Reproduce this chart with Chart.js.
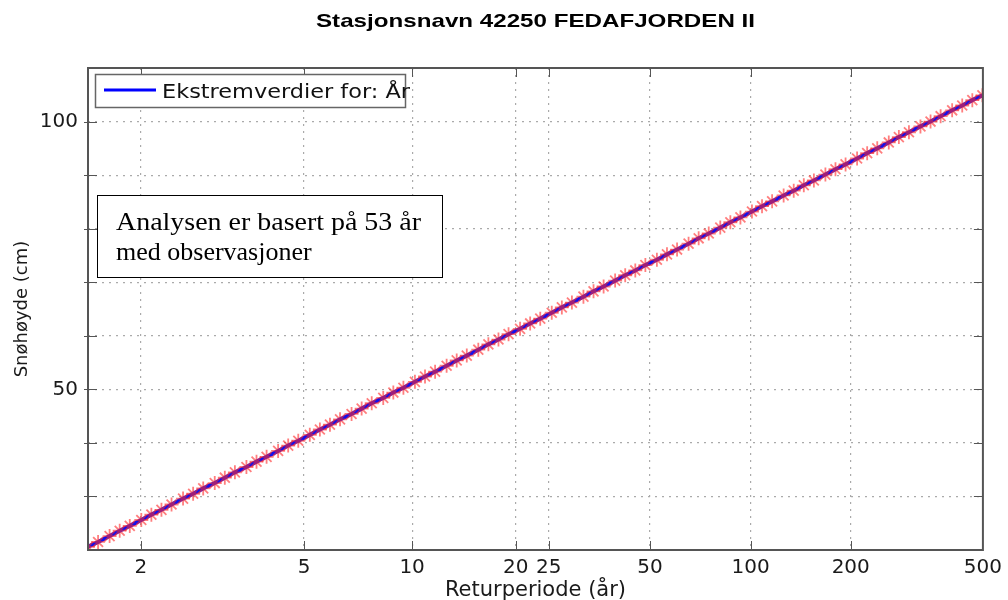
<!DOCTYPE html>
<html>
<head>
<meta charset="utf-8">
<script src="https://cdn.jsdelivr.net/npm/chart.js@4/dist/chart.umd.min.js"></script>
<style>
  html, body { margin:0; padding:0; background:#fff; }
  #wrap { width:1008px; height:600px; position:relative; }
</style>
</head>
<body>
<div id="wrap"><canvas id="c" width="1008" height="600"></canvas></div>
<script>
// Gumbel reduced variate on x, return period labels on the ticks
var returnPeriods = [2, 5, 10, 20, 25, 50, 100, 200, 500];
var tickPositions = [0.3665, 1.4999, 2.2504, 2.9702, 3.1985, 3.9019, 4.6001, 5.2958, 6.2136];
var yLabels = [50, 100];

var variate = [0.00,0.07,0.15,0.22,0.29,0.37,0.44,0.51,0.58,0.66,0.73,0.80,0.88,0.95,1.02,1.10,1.17,1.24,1.32,1.39,
  1.46,1.54,1.61,1.68,1.75,1.83,1.90,1.97,2.05,2.12,2.19,2.27,2.34,2.41,2.49,2.56,2.63,2.71,2.78,2.85,
  2.92,3.00,3.07,3.14,3.22,3.29,3.36,3.44,3.51,3.58,3.66,3.73,3.80,3.87,3.95,4.02,4.09,4.17,4.24,4.31,
  4.39,4.46,4.53,4.61,4.68,4.75,4.83,4.90,4.97,5.04,5.12,5.19,5.26,5.34,5.41,5.48,5.56,5.63,5.70,5.78,
  5.85,5.92,6.00,6.07,6.14,6.21];
var snowDepth = [20.6,21.5,22.6,23.6,24.5,25.6,26.6,27.5,28.5,29.6,30.5,31.5,32.5,33.5,34.5,35.5,36.5,37.4,38.5,39.5,
  40.4,41.5,42.5,43.4,44.4,45.4,46.4,47.4,48.4,49.4,50.3,51.4,52.4,53.3,54.4,55.4,56.3,57.4,58.4,59.3,
  60.3,61.3,62.3,63.2,64.3,65.3,66.2,67.3,68.3,69.2,70.3,71.3,72.2,73.2,74.2,75.2,76.1,77.2,78.2,79.1,
  80.2,81.2,82.1,83.2,84.2,85.1,86.2,87.1,88.1,89.0,90.1,91.1,92.0,93.1,94.1,95.0,96.1,97.1,98.0,99.1,
  100.0,101.0,102.1,103.0,104.0,104.9];

var titleText = "Stasjonsnavn 42250 FEDAFJORDEN II";
var legendText = "Ekstremverdier for: År";
var noteLines = ["Analysen er basert på 53 år", "med observasjoner"];

function pts(){ var a = []; for (var i=0;i<variate.length;i++){ a.push({x:variate[i], y:snowDepth[i]}); } return a; }

function stretchText(ctx, txt, x, y, w){
  var m = ctx.measureText(txt).width;
  ctx.save(); ctx.translate(x, y); ctx.scale(w/m, 1); ctx.fillText(txt, 0, 0); ctx.restore();
}

var decor = {
  id: "decor",
  beforeDatasetsDraw: function(chart){
    var ctx = chart.ctx, a = chart.chartArea, xs = chart.scales.x, ys = chart.scales.y;
    ctx.save();
    ctx.strokeStyle = "#555"; ctx.lineWidth = 1;
    // inward tick marks (left, right, top, bottom)
    for (var v=30; v<=100; v+=10){
      var py = Math.round(ys.getPixelForValue(v)) + 0.5;
      ctx.beginPath(); ctx.moveTo(a.left-4, py); ctx.lineTo(a.left+9, py); ctx.moveTo(a.right, py); ctx.lineTo(a.right-9, py); ctx.stroke();
    }
    for (var i=0;i<tickPositions.length-1;i++){
      var px = Math.round(xs.getPixelForValue(tickPositions[i])) + 0.5;
      ctx.beginPath(); ctx.moveTo(px, a.bottom); ctx.lineTo(px, a.bottom-9); ctx.moveTo(px, a.top); ctx.lineTo(px, a.top+9); ctx.stroke();
    }
    ctx.restore();
  },
  afterDraw: function(chart){
    var ctx = chart.ctx, a = chart.chartArea;
    ctx.save();
    // frame
    ctx.strokeStyle = "#555"; ctx.lineWidth = 2;
    ctx.strokeRect(a.left, a.top, a.right-a.left, a.bottom-a.top);
    // title
    ctx.fillStyle = "#000"; ctx.textBaseline = "alphabetic";
    ctx.font = "bold 19px 'Liberation Sans', Arial, sans-serif";
    stretchText(ctx, titleText, 316, 27, 439);
    // legend
    ctx.fillStyle = "#fff"; ctx.fillRect(95, 74, 310, 33);
    ctx.strokeStyle = "#666"; ctx.lineWidth = 1.5; ctx.strokeRect(95.5, 74.5, 310, 33);
    ctx.strokeStyle = "#0000ff"; ctx.lineWidth = 3;
    ctx.beginPath(); ctx.moveTo(104, 90); ctx.lineTo(156, 90); ctx.stroke();
    ctx.fillStyle = "#111"; ctx.font = "19px 'DejaVu Sans', sans-serif";
    stretchText(ctx, legendText, 162, 98, 248);
    // note box
    ctx.fillStyle = "#fff"; ctx.fillRect(97, 195, 345, 82);
    ctx.strokeStyle = "#000"; ctx.lineWidth = 1; ctx.strokeRect(97.5, 195.5, 345, 82);
    ctx.fillStyle = "#000"; ctx.font = "26px 'Liberation Serif', 'Times New Roman', serif";
    stretchText(ctx, noteLines[0], 116, 230, 305);
    ctx.fillText(noteLines[1], 116, 260);
    ctx.restore();
  }
};

new Chart(document.getElementById("c"), {
  type: "scatter",
  data: { datasets: [
    { label: legendText, data: pts(), showLine: true, borderColor: "#1010f0", borderWidth: 4,
      pointRadius: 0, order: 2 },
    { label: "obs", data: pts(), showLine: false, pointStyle: "star", pointRadius: 7,
      borderColor: "rgba(255,40,40,0.6)", backgroundColor: "rgba(255,40,40,0.6)", borderWidth: 1.8, order: 1 }
  ]},
  options: {
    responsive: false, animation: false,
    layout: { padding: { top: 68, right: 25, left: 0, bottom: 0 } },
    plugins: { legend: { display: false }, tooltip: { enabled: false }, title: { display: false } },
    scales: {
      x: {
        type: "linear", min: 0, max: 6.2136,
        afterBuildTicks: function(s){ s.ticks = tickPositions.map(function(v){ return { value: v }; }); },
        afterFit: function(s){ s.height = 50; },
        ticks: { autoSkip: false, maxRotation: 0, padding: 6, color: "#1a1a1a",
          font: { family: "'DejaVu Sans', sans-serif", size: 20 },
          callback: function(v){ var i = tickPositions.indexOf(v); return i >= 0 ? String(returnPeriods[i]) : ""; } },
        grid: { color: "#aaa", lineWidth: 1.2, drawTicks: false },
        border: { display: false, dash: [2, 5] },
        title: { display: true, text: "Returperiode (år)", color: "#1a1a1a", padding: { top: 0, bottom: -3 },
          font: { family: "'DejaVu Sans', sans-serif", size: 21 } }
      },
      y: {
        min: 20, max: 110,
        afterBuildTicks: function(s){ var t = []; for (var v=20; v<=110; v+=10){ t.push({ value: v }); } s.ticks = t; },
        afterFit: function(s){ s.width = 88; },
        ticks: { autoSkip: false, padding: 10, color: "#1a1a1a",
          font: { family: "'DejaVu Sans', sans-serif", size: 20 },
          callback: function(v){ return yLabels.indexOf(v) >= 0 ? String(v) : ""; } },
        grid: { color: "#aaa", lineWidth: 1.2, drawTicks: false },
        border: { display: false, dash: [2, 5] },
        title: { display: true, text: "Snøhøyde (cm)", color: "#1a1a1a", padding: { top: 12, bottom: 0 },
          font: { family: "'DejaVu Sans', sans-serif", size: 18 } }
      }
    }
  },
  plugins: [decor]
});
</script>
</body>
</html>
